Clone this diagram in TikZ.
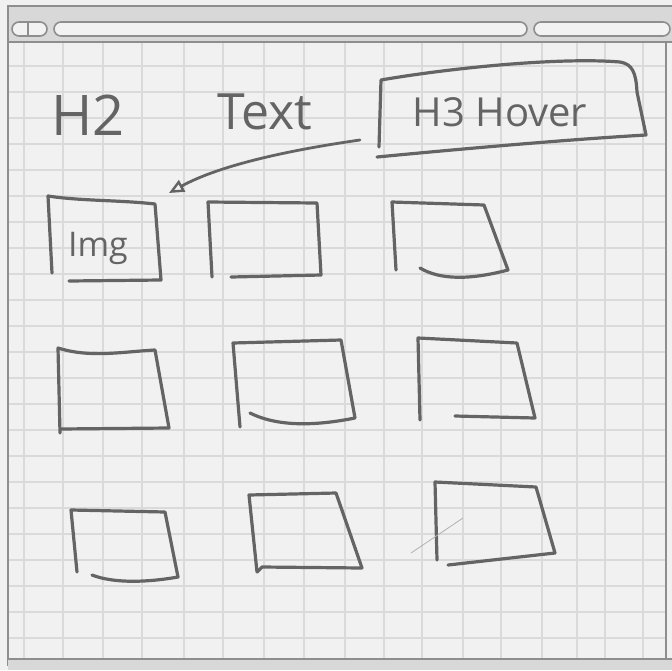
\documentclass[tikz,border=0pt]{standalone}
\usepackage{fontspec}
\setmainfont{Open Sans}
\usetikzlibrary{arrows.meta}
\definecolor{paper}{HTML}{F1F1F1}
\definecolor{gridc}{HTML}{DADADA}
\definecolor{pencil}{HTML}{646464}
\definecolor{barfill}{HTML}{D8D8D8}
\definecolor{fieldfill}{HTML}{F2F2F2}
\definecolor{framec}{HTML}{8E8E8E}
\begin{document}
\begin{tikzpicture}[x=1pt,y=-1pt,
  sk/.style={draw=pencil,line width=3.2pt,line cap=round,line join=round},
  hand/.style={text=pencil,inner sep=0pt},
  gridline/.style={draw=gridc,line width=1.1pt},
  frameline/.style={draw=framec,line width=2pt},
  field/.style={draw=framec,fill=fieldfill,line width=1.6pt,rounded corners=7pt}]
\useasboundingbox (0,0) rectangle (672,670);
\fill[paper] (0,0) rectangle (672,670);
% grid paper
\foreach \x in {24,63,103,142,184,223,264,304,345,384,422,463,501,542,577,605,643}
  \draw[gridline] (\x,42) -- (\x,658);
\foreach \k in {0,...,22}
  \draw[gridline] (8,{66+26*\k}) -- (666,{66+26*\k});
% browser chrome
\fill[barfill] (8,6) rectangle (672,42);
\draw[frameline] (672,6) -- (8,6) -- (8,666);
\draw[frameline] (8,42) -- (672,42);
\draw[frameline] (666,42) -- (666,659);
\fill[barfill] (8,659) rectangle (672,670);
\draw[frameline] (8,659) -- (672,659);
\draw[field] (12,22) rectangle (47,36);
\draw[framec,line width=1.6pt] (28,22) -- (28,36);
\draw[field] (54,22) rectangle (527,36);
\draw[field] (534,22) rectangle (670,36);
% headings
\node[hand,font=\fontsize{56}{56}\selectfont] (h2) at (88,115) {H2};
\node[hand,font=\fontsize{50}{50}\selectfont] (txt) at (265,112) {Text};
\node[hand,font=\fontsize{40}{40}\selectfont] (h3) at (500,112) {H3 Hover};
% hover box
\draw[sk] (379,147) -- (381,80) .. controls (450,68) and (560,57) .. (620,62)
  .. controls (632,64) and (636,72) .. (637,92) -- (646,135)
  .. controls (560,140) and (450,150) .. (377,157);
% image boxes
\draw[sk] (69,281) -- (161,280) -- (155,204) .. controls (120,200) and (80,201) .. (48,196) -- (52,273);
\node[hand,font=\fontsize{34}{34}\selectfont,anchor=base] (img) at (98,256) {Img};
\draw[sk] (231,277) -- (321,275) -- (317,203) -- (208,202) -- (212,277);
\draw[sk] (420,268) .. controls (440,280) and (470,280) .. (508,270) -- (484,205) -- (392,202) -- (396,270);
\draw[sk] (60,429) -- (169,428) -- (155,350) .. controls (120,352) and (90,358) .. (58,348) -- (60,433);
\draw[sk] (250,413) .. controls (280,428) and (320,425) .. (355,418) -- (341,340) -- (233,343) -- (240,427);
\draw[sk] (455,416) -- (535,418) -- (517,343) -- (418,338) -- (420,420);
\draw[sk] (92,575) .. controls (115,584) and (150,582) .. (178,577) -- (165,512) -- (71,510) -- (77,572);
\draw[sk] (257,572) -- (262,567) -- (362,568) -- (336,493) -- (249,495) -- (257,572);
\draw[sk] (448,565) -- (555,553) -- (536,487) -- (435,482) -- (437,560);
\draw[draw=pencil!50,line width=0.8pt] (411,553) -- (463,518);
% hover arrow
\coordinate (arrS) at (360,140);
\coordinate (arrE) at (169,193);
\draw[sk,line width=2.8pt,-{Triangle[open,length=15pt,width=13pt,line width=2.4pt]}]
  (arrS) .. controls (290,150) and (220,165) .. (arrE);
\end{tikzpicture}
\end{document}
